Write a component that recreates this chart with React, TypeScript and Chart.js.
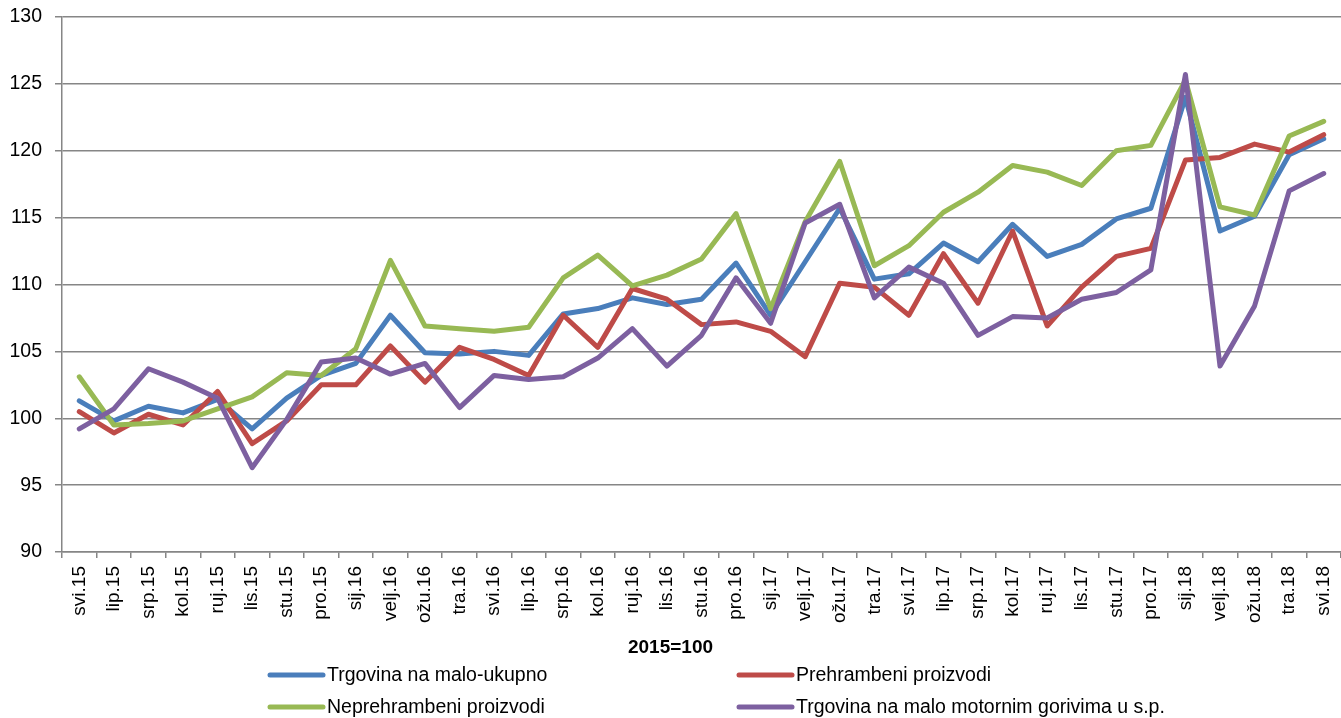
import { useEffect, useRef } from "react";
import { Chart, registerables } from "chart.js";

Chart.register(...registerables);

const categories = [
  "svi.15", "lip.15", "srp.15", "kol.15", "ruj.15", "lis.15", "stu.15", "pro.15",
  "sij.16", "velj.16", "ožu.16", "tra.16", "svi.16", "lip.16", "srp.16", "kol.16",
  "ruj.16", "lis.16", "stu.16", "pro.16", "sij.17", "velj.17", "ožu.17", "tra.17",
  "svi.17", "lip.17", "srp.17", "kol.17", "ruj.17", "lis.17", "stu.17", "pro.17",
  "sij.18", "velj.18", "ožu.18", "tra.18", "svi.18",
];

const ukupno = [
  101.3, 99.8, 100.9, 100.4, 101.4, 99.2, 101.5, 103.2, 104.1, 107.7,
  104.9, 104.8, 105.0, 104.7, 107.8, 108.2, 109.0, 108.5, 108.9, 111.6,
  107.7, 111.7, 115.7, 110.4, 110.8, 113.1, 111.7, 114.5, 112.1, 113.0,
  114.9, 115.7, 124.0, 114.0, 115.1, 119.7, 120.9,
];

const prehrambeni = [
  100.5, 98.9, 100.3, 99.5, 102.0, 98.1, 99.8, 102.5, 102.5, 105.4,
  102.7, 105.3, 104.4, 103.2, 107.7, 105.3, 109.7, 108.9, 107.0, 107.2,
  106.5, 104.6, 110.1, 109.8, 107.7, 112.3, 108.6, 114.0, 106.9, 109.8,
  112.1, 112.7, 119.3, 119.5, 120.5, 119.9, 121.2,
];

const neprehrambeni = [
  103.1, 99.5, 99.6, 99.8, 100.7, 101.6, 103.4, 103.2, 105.2, 111.8,
  106.9, 106.7, 106.5, 106.8, 110.5, 112.2, 109.9, 110.7, 111.9, 115.3,
  108.2, 114.7, 119.2, 111.4, 112.9, 115.4, 116.9, 118.9, 118.4, 117.4,
  120.0, 120.4, 125.3, 115.8, 115.2, 121.1, 122.2,
];

const gorivima = [
  99.2, 100.7, 103.7, 102.7, 101.5, 96.3, 99.9, 104.2, 104.5, 103.3,
  104.1, 100.8, 103.2, 102.9, 103.1, 104.5, 106.7, 103.9, 106.2, 110.5,
  107.1, 114.6, 116.0, 109.0, 111.3, 110.1, 106.2, 107.6, 107.5, 108.9,
  109.4, 111.1, 125.7, 103.9, 108.4, 117.0, 118.3,
];

const seriesNames = [
  "Trgovina na malo-ukupno",
  "Prehrambeni proizvodi",
  "Neprehrambeni proizvodi",
  "Trgovina na malo motornim gorivima u s.p.",
];
const seriesColors = ["#4A7EBB", "#BE4B48", "#98B954", "#7D60A0"];
const axisTitle = "2015=100";
const yMin = 90;
const yMax = 130;
const yStep = 5;

const FONT = "'Liberation Sans', Arial, sans-serif";
const GRID = "#868686";

const gridLegend = {
  id: "gridLegend",
  afterDraw(chart: any) {
    const ctx = chart.ctx;
    const cols = [268, 737];
    const rows = [675, 707];
    ctx.save();
    ctx.font = `19.5px ${FONT}`;
    ctx.textBaseline = "middle";
    ctx.textAlign = "left";
    chart.data.datasets.forEach((ds: any, i: number) => {
      const x = cols[i % 2];
      const y = rows[Math.floor(i / 2)];
      ctx.strokeStyle = ds.borderColor;
      ctx.lineWidth = 5;
      ctx.lineCap = "round";
      ctx.beginPath();
      ctx.moveTo(x + 2, y);
      ctx.lineTo(x + 55, y);
      ctx.stroke();
      ctx.fillStyle = "#000";
      ctx.fillText(ds.label, x + 59, y + 1);
    });
    ctx.restore();
  },
};

export default function App() {
  const ref = useRef<HTMLCanvasElement | null>(null);

  useEffect(() => {
    if (!ref.current) return;
    const series = [ukupno, prehrambeni, neprehrambeni, gorivima];
    const chart = new Chart(ref.current, {
      type: "line",
      data: {
        labels: categories,
        datasets: series.map((d, i) => ({
          label: seriesNames[i],
          data: d,
          borderColor: seriesColors[i],
          backgroundColor: seriesColors[i],
          borderWidth: 5,
          pointRadius: 0,
          pointHoverRadius: 0,
          tension: 0,
          borderJoinStyle: "round" as const,
          borderCapStyle: "round" as const,
          order: 4 - i,
        })),
      },
      options: {
        responsive: false,
        animation: false,
        layout: { padding: { top: 17, right: 0, left: 0, bottom: 58.6 } },
        plugins: {
          legend: { display: false },
          tooltip: { enabled: false },
          title: {
            display: true,
            position: "bottom",
            text: axisTitle,
            color: "#000",
            font: { family: FONT, size: 19, weight: "bold", lineHeight: 1.2 },
            padding: { top: 0, bottom: 0 },
          },
        },
        scales: {
          x: {
            type: "category",
            offset: true,
            grid: {
              offset: true,
              drawOnChartArea: false,
              drawTicks: true,
              tickLength: 6,
              color: GRID,
              lineWidth: 1.5,
            },
            border: { color: GRID, width: 1.5 },
            ticks: {
              autoSkip: false,
              minRotation: 90,
              maxRotation: 90,
              padding: 8,
              color: "#000",
              font: { family: FONT, size: 19 },
            },
            afterFit: (s: any) => {
              s.height = 84.6;
              s.paddingLeft = 0;
              s.paddingRight = 0;
            },
          },
          y: {
            min: yMin,
            max: yMax,
            ticks: {
              stepSize: yStep,
              padding: 13,
              color: "#000",
              font: { family: FONT, size: 19.5 },
            },
            grid: {
              color: GRID,
              lineWidth: 1.5,
              tickLength: 7,
              drawTicks: true,
            },
            border: { color: GRID, width: 1.5 },
            afterFit: (s: any) => {
              s.width = 62;
              s.paddingTop = 0;
              s.paddingBottom = 0;
            },
          },
        },
      },
      plugins: [gridLegend],
    });
    return () => chart.destroy();
  }, []);

  return (
    <div style={{ position: "fixed", left: 0, top: 0, width: 1341, height: 718, background: "#fff" }}>
      <canvas ref={ref} width={1341} height={718} style={{ display: "block" }} />
    </div>
  );
}
